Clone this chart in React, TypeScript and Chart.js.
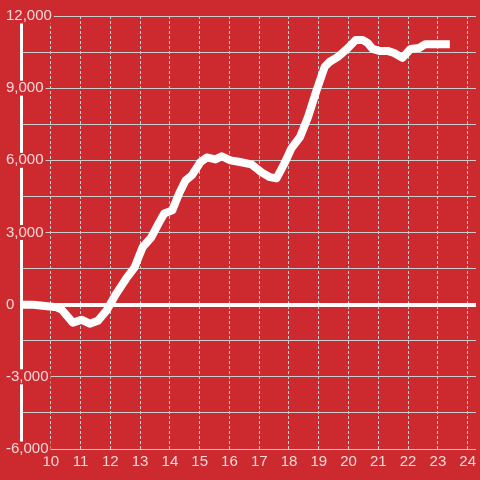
import React, { useEffect, useRef } from "react";
import { Chart, registerables } from "chart.js";

Chart.register(...registerables);

const hours = [
  9.0, 9.41, 10.2, 10.37, 10.74, 11.03, 11.31, 11.58, 11.87, 12.2, 12.53, 12.81, 13.08, 13.37,
  13.64, 13.81, 14.08, 14.31, 14.53, 14.74, 15.03, 15.24, 15.53, 15.74, 16.03, 16.31, 16.74,
  17.08, 17.36, 17.58, 17.87, 18.08, 18.37, 18.64, 18.91, 19.2, 19.37, 19.64, 19.98, 20.24,
  20.48, 20.64, 20.81, 21.03, 21.31, 21.53, 21.81, 22.08, 22.37, 22.58, 22.98, 23.4,
];
const values = [
  0, 0, -110, -210, -750, -625, -790, -670, -250, 460, 1080, 1540, 2380, 2790, 3420, 3790,
  3920, 4620, 5170, 5380, 5930, 6120, 6040, 6170, 6000, 5940, 5830, 5500, 5300, 5250, 5930,
  6500, 6970, 7800, 8850, 9890, 10100, 10300, 10670, 11000, 11000, 10880, 10630, 10550, 10550,
  10460, 10260, 10630, 10670, 10830, 10830, 10830,
];
const xTickValues = [10, 11, 12, 13, 14, 15, 16, 17, 18, 19, 20, 21, 22, 23, 24];

const BG = "#cc2a2f";
const GRID = "#cccccc";
const LABEL = "rgba(255,255,255,0.82)";

export default function App() {
  const ref = useRef<HTMLCanvasElement>(null);
  useEffect(() => {
    if (!ref.current) return;
    const chart = new Chart(ref.current, {
      type: "line",
      data: {
        datasets: [
          {
            data: hours.map((h, i) => ({ x: h, y: values[i] })),
            borderColor: "#ffffff",
            borderWidth: 8,
            pointRadius: 0,
            tension: 0,
            borderJoinStyle: "round",
            fill: false,
          },
        ],
      },
      options: {
        animation: false,
        responsive: false,
        maintainAspectRatio: false,
        layout: { padding: { left: 6, top: 16, right: 0, bottom: 5 } },
        plugins: { legend: { display: false }, tooltip: { enabled: false } },
        scales: {
          x: {
            type: "linear",
            min: 9,
            max: 24.28,
            afterBuildTicks: (scale: any) => {
              scale.ticks = xTickValues.map((v) => ({ value: v }));
            },
            grid: { color: GRID, lineWidth: 1, drawTicks: false },
            border: { display: true, color: GRID, width: 1, dash: [3, 2] },
            ticks: {
              color: LABEL,
              padding: 4,
              maxRotation: 0,
              autoSkip: false,
              font: { family: "'Liberation Sans', Arial, sans-serif", size: 15 },
              callback: (v: any) => String(v),
            },
          },
          y: {
            type: "linear",
            min: -6000,
            max: 12000,
            afterFit: (scale: any) => {
              scale.width = 15;
            },
            grid: {
              color: (c: any) => (c.tick && c.tick.value === 0 ? "#ffffff" : GRID),
              lineWidth: (c: any) => (c.tick && c.tick.value === 0 ? 4 : 1),
              drawTicks: false,
            },
            border: { display: true, color: "#ffffff", width: 3 },
            ticks: {
              stepSize: 1500,
              color: LABEL,
              mirror: true,
              crossAlign: "near",
              padding: -15,
              autoSkip: false,
              font: { family: "'Liberation Sans', Arial, sans-serif", size: 15, lineHeight: 1 },
              showLabelBackdrop: (c: any) => !!c.tick && c.tick.value % 3000 === 0,
              backdropColor: BG,
              backdropPadding: { left: 2, right: 2, top: 0, bottom: 0 },
              callback: (v: any) =>
                Number(v) % 3000 === 0 ? Number(v).toLocaleString("en-US") : "",
            },
          },
        },
      },
    });
    return () => chart.destroy();
  }, []);
  return (
    <div
      style={{
        position: "absolute",
        left: 0,
        top: 0,
        width: 480,
        height: 480,
        background: BG,
      }}
    >
      <canvas ref={ref} width={480} height={480} style={{ display: "block" }} />
    </div>
  );
}
